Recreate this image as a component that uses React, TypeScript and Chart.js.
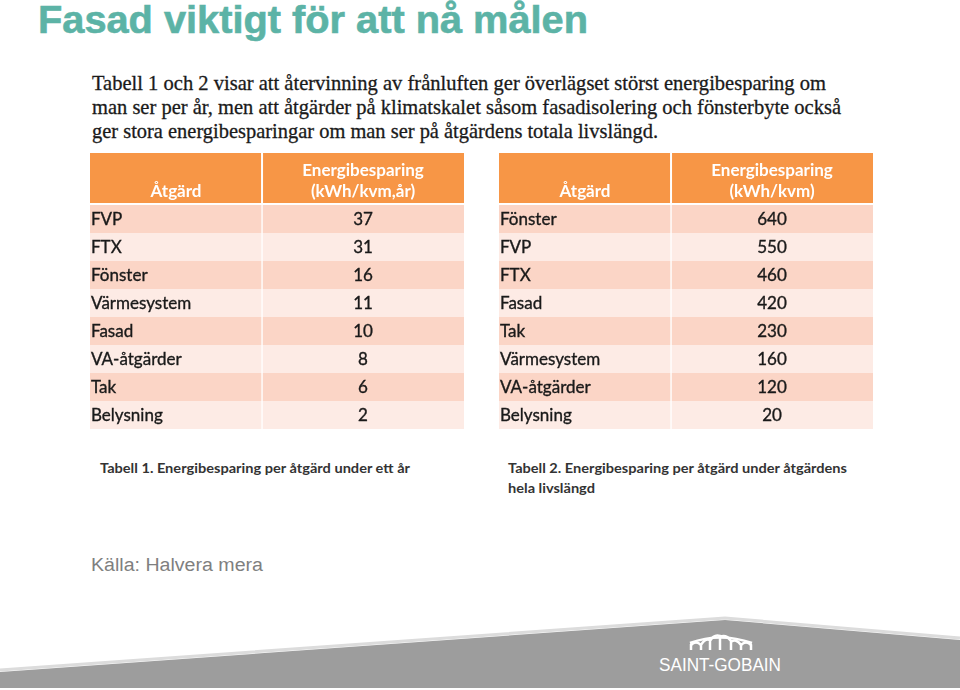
import React, { useEffect, useRef } from "react";
import { Chart, registerables } from "chart.js";

Chart.register(...registerables);

// ---- data ----
const table1Actions = ["FVP", "FTX", "Fönster", "Värmesystem", "Fasad", "VA-åtgärder", "Tak", "Belysning"];
const table1Savings = [37, 31, 16, 11, 10, 8, 6, 2];
const table1Header = ["Åtgärd", "Energibesparing", "(kWh/kvm,år)"];

const table2Actions = ["Fönster", "FVP", "FTX", "Fasad", "Tak", "Värmesystem", "VA-åtgärder", "Belysning"];
const table2Savings = [640, 550, 460, 420, 230, 160, 120, 20];
const table2Header = ["Åtgärd", "Energibesparing", "(kWh/kvm)"];

const titleText = "Fasad viktigt för att nå målen";
const paragraphLines = [
  "Tabell 1 och 2 visar att återvinning av frånluften ger överlägset störst energibesparing om",
  "man ser per år, men att åtgärder på klimatskalet såsom fasadisolering och fönsterbyte också",
  "ger stora energibesparingar om man ser på åtgärdens totala livslängd.",
];
const caption1 = ["Tabell 1. Energibesparing per åtgärd under ett år"];
const caption2 = ["Tabell 2. Energibesparing per åtgärd under åtgärdens", "hela livslängd"];
const sourceText = "Källa: Halvera mera";

const SPLIT = 0.46;
const HEADER_H = 50;
const ORANGE = "#f79646";
const DARK_ROW = "#fbd5c6";
const LIGHT_ROW = "#fdebe5";
const TABLE_FONT = "Lato, 'Open Sans', sans-serif";

const tablePlugin = {
  id: "tableText",
  beforeDatasetsDraw(chart: any, _args: any, opts: any) {
    const ctx = chart.ctx;
    const xs = chart.scales.x;
    const top = chart.chartArea.top;
    const x0 = xs.getPixelForValue(0);
    const xm = xs.getPixelForValue(SPLIT);
    const x1 = xs.getPixelForValue(1);
    ctx.save();
    ctx.fillStyle = ORANGE;
    ctx.fillRect(x0, 0, xm - x0 - 1, top - 2);
    ctx.fillRect(xm + 1, 0, x1 - xm - 1, top - 2);
    ctx.fillStyle = "#ffffff";
    ctx.font = `bold 17px ${TABLE_FONT}`;
    ctx.textAlign = "center";
    ctx.textBaseline = "middle";
    const h: string[] = opts.header;
    ctx.fillText(h[0], (x0 + xm) / 2, 39);
    ctx.fillText(h[1], (xm + x1) / 2, 18);
    ctx.fillText(h[2], (xm + x1) / 2, 39);
    ctx.restore();
  },
  afterDatasetsDraw(chart: any, _args: any, opts: any) {
    const ctx = chart.ctx;
    const xs = chart.scales.x;
    const ys = chart.scales.y;
    const x0 = xs.getPixelForValue(0);
    const xm = xs.getPixelForValue(SPLIT);
    const x1 = xs.getPixelForValue(1);
    ctx.save();
    ctx.fillStyle = "#1a1a1a";
    ctx.strokeStyle = "#1a1a1a";
    ctx.lineWidth = 0.35;
    ctx.font = `17px ${TABLE_FONT}`;
    ctx.textBaseline = "middle";
    (opts.actions as string[]).forEach((a, i) => {
      const yy = ys.getPixelForValue(i) + 1;
      ctx.textAlign = "left";
      ctx.fillText(a, x0 + 1, yy);
      ctx.strokeText(a, x0 + 1, yy);
      ctx.textAlign = "center";
      const v = String(opts.values[i]);
      ctx.fillText(v, (xm + x1) / 2, yy);
      ctx.strokeText(v, (xm + x1) / 2, yy);
    });
    ctx.restore();
  },
};

function TableChart(props: { actions: string[]; values: number[]; header: string[]; left: number; top: number }) {
  const ref = useRef<HTMLCanvasElement>(null);
  useEffect(() => {
    if (!ref.current) return;
    const colors = props.actions.map((_, i) => (i % 2 === 0 ? DARK_ROW : LIGHT_ROW));
    const chart = new Chart(ref.current, {
      type: "bar",
      data: {
        labels: props.actions,
        datasets: [
          {
            label: props.header[0],
            data: props.actions.map(() => [0, SPLIT]) as any,
            backgroundColor: colors,
            borderColor: "#ffffff",
            borderWidth: { left: 0, top: 0, bottom: 0, right: 1 } as any,
            borderSkipped: false,
            categoryPercentage: 1,
            barPercentage: 1,
            grouped: false,
          },
          {
            label: props.header[1],
            data: props.values.map(() => [SPLIT, 1]) as any,
            backgroundColor: colors,
            borderColor: "#ffffff",
            borderWidth: { left: 1, top: 0, bottom: 0, right: 0 } as any,
            borderSkipped: false,
            categoryPercentage: 1,
            barPercentage: 1,
            grouped: false,
          },
        ],
      },
      options: {
        indexAxis: "y",
        animation: false,
        responsive: false,
        maintainAspectRatio: false,
        layout: { padding: { top: HEADER_H + 2, left: 0, right: 0, bottom: 0 } },
        scales: {
          x: { type: "linear", min: 0, max: 1, display: false },
          y: { type: "category", display: false, offset: true },
        },
        plugins: {
          legend: { display: false },
          tooltip: { enabled: false },
          tableText: { actions: props.actions, values: props.values, header: props.header },
        } as any,
      },
      plugins: [tablePlugin],
    });
    return () => chart.destroy();
  }, []);
  return (
    <canvas
      ref={ref}
      width={374}
      height={276}
      style={{ position: "absolute", left: props.left, top: props.top, width: 374, height: 276 }}
    />
  );
}

export default function App() {
  return (
    <div
      style={{
        position: "fixed",
        left: 0,
        top: 0,
        width: 960,
        height: 690,
        background: "#ffffff",
        overflow: "hidden",
      }}
    >
      <svg width={960} height={690} style={{ position: "absolute", left: 0, top: 0 }}>
        <text
          x={38}
          y={33}
          fill="#5cb3a6"
          stroke="#5cb3a6"
          strokeWidth={0.6}
          fontFamily="'Liberation Sans', Arial, sans-serif"
          fontWeight="bold"
          fontSize={39}
          textLength={550}
          lengthAdjust="spacingAndGlyphs"
        >
          {titleText}
        </text>
        {paragraphLines.map((l, i) => (
          <text
            key={i}
            x={92}
            y={90 + i * 24}
            fill="#1a1a1a"
            stroke="#1a1a1a"
            strokeWidth={0.3}
            fontFamily="'Liberation Serif', 'Times New Roman', serif"
            fontSize={21}
            textLength={[734, 749, 566][i]}
            lengthAdjust="spacingAndGlyphs"
          >
            {l}
          </text>
        ))}
        {caption1.map((l, i) => (
          <text
            key={"c1" + i}
            x={100}
            y={473 + i * 20}
            fill="#333333"
            fontFamily={TABLE_FONT}
            fontWeight="bold"
            fontSize={14}
            textLength={310}
            lengthAdjust="spacingAndGlyphs"
          >
            {l}
          </text>
        ))}
        {caption2.map((l, i) => (
          <text
            key={"c2" + i}
            x={508}
            y={473 + i * 20}
            fill="#333333"
            fontFamily={TABLE_FONT}
            fontWeight="bold"
            fontSize={14}
            textLength={[339, 87][i]}
            lengthAdjust="spacingAndGlyphs"
          >
            {l}
          </text>
        ))}
        <text
          x={91}
          y={571}
          fill="#7f7f7f"
          fontFamily="'Liberation Sans', Arial, sans-serif"
          fontSize={18}
          textLength={172}
          lengthAdjust="spacingAndGlyphs"
        >
          {sourceText}
        </text>
        {/* footer band */}
        <polyline points="0,670 725,618 960,638" fill="none" stroke="#dcdcdc" strokeWidth={3} />
        <polygon points="0,672 725,620 960,640 960,688 0,688" fill="#9d9d9d" />
        {/* logo arches */}
        <g fill="none" stroke="#ffffff" strokeWidth={2.5}>
          <path d="M690,643 Q720,632 752,643" />
          <path d="M691,650 L691,644 M691,645 Q696,640 701,645 L701,650 M701,645 Q705,638 710,640 L710,650 M710,641 Q714,634 720,636 L720,650 M720,637 Q726,634 731,641 L731,650 M731,642 Q736,638 741,645 L741,650 M741,645 Q746,640 751,645 L751,650" />
        </g>
        <text
          x={659}
          y={671}
          fill="#ffffff"
          fontFamily="'Liberation Sans Narrow', 'Liberation Sans', Arial, sans-serif"
          fontSize={18}
          textLength={122}
          lengthAdjust="spacingAndGlyphs"
        >
          SAINT-GOBAIN
        </text>
      </svg>
      <TableChart actions={table1Actions} values={table1Savings} header={table1Header} left={90} top={153} />
      <TableChart actions={table2Actions} values={table2Savings} header={table2Header} left={499} top={153} />
    </div>
  );
}
